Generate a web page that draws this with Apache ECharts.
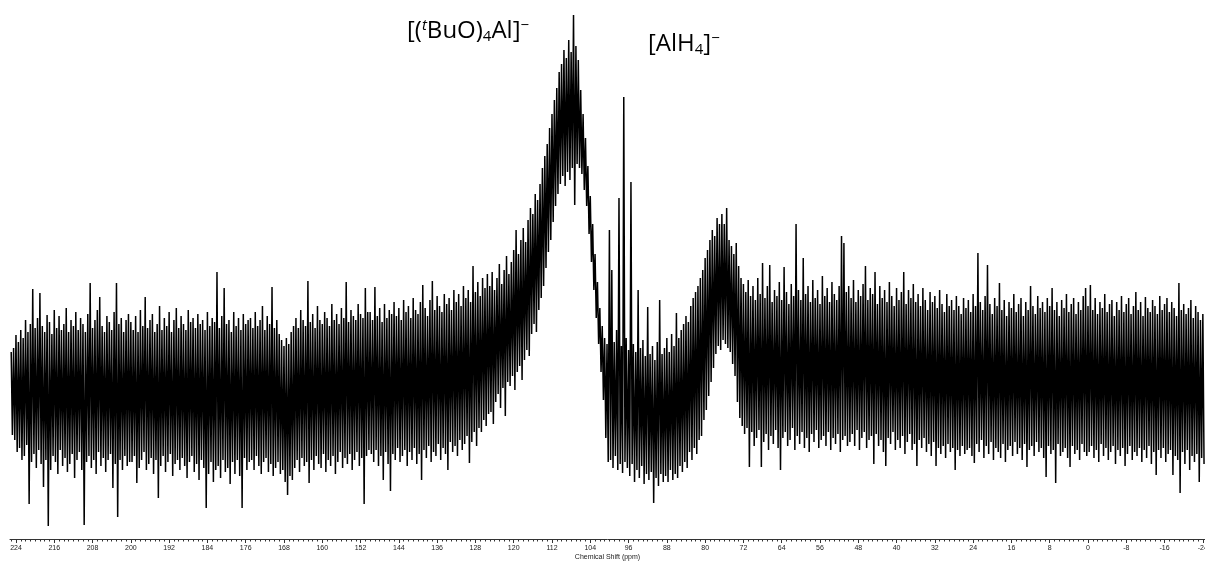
<!DOCTYPE html>
<html>
<head>
<meta charset="utf-8">
<script src="https://cdn.jsdelivr.net/npm/echarts@6/dist/echarts.min.js"></script>
<style>
  html, body { margin: 0; padding: 0; background: #fff; }
  #chart { width: 1205px; height: 561px; }
</style>
</head>
<body>
<div id="chart" style="width:1205px;height:561px"></div>
<script>
// 27Al NMR trace. Every segment holds intensities (a.u.) sampled every 0.25 ppm
// going upfield from its start shift, alternating the upper and lower excursion
// of the noisy signal.
const STEP = 0.25;

const seg225 = [
  38,-45, 42,-50, 55,-62, 48,-58, 60,-70, 52,-66, 70,-55, 58,-114, 66,-72, 101,-64,
  62,-78, 72,-60, 97,-74, 64,-97, 58,-70, 75,-136, 68,-80, 56,-66, 80,-72, 62,-84,
  74,-60, 60,-76, 66,-68, 82,-82, 58,-74, 70,-64, 64,-88, 78,-70, 60,-62, 72,-80,
  66,-135, 58,-72, 76,-66, 107,-78, 62,-70, 70,-84, 80,-62, 93,-76, 64,-68, 58,-82,
  74,-70, 68,-64, 60,-98, 78,-74, 107,-127, 66,-70, 72,-80, 58,-66, 70,-76, 76,-72
];
const seg200 = [
  68,-72, 60,-66, 74,-93, 58,-78, 80,-70, 64,-62, 93,-80, 62,-74, 70,-68, 76,-84,
  58,-70, 66,-108, 84,-76, 60,-66, 72,-82, 64,-72, 78,-64, 58,-86, 70,-74, 82,-70,
  62,-80, 74,-68, 66,-76, 60,-88, 80,-72, 68,-66, 72,-82, 62,-74, 76,-90, 66,-70,
  70,-78, 60,-118, 78,-84, 64,-72, 72,-92, 68,-80, 118,-76, 62,-88, 74,-70, 102,-82,
  66,-78, 70,-94, 58,-72, 78,-84, 64,-70, 72,-86, 60,-118, 76,-68, 66,-80, 70,-72
];
const seg175 = [
  72,-70, 62,-80, 78,-66, 64,-76, 70,-84, 84,-72, 60,-68, 74,-82, 66,-74, 103,-86,
  62,-78, 70,-72, 56,-84, 50,-80, 44,-92, 52,-105, 46,-86, 58,-90, 64,-78, 72,-70,
  62,-82, 80,-68, 70,-76, 64,-72, 109,-93, 68,-70, 76,-80, 62,-66, 84,-74, 70,-78,
  66,-64, 78,-82, 72,-70, 64,-76, 86,-66, 70,-84, 76,-72, 66,-62, 82,-78, 72,-68,
  108,-74, 68,-64, 80,-80, 74,-70, 70,-62, 86,-76, 76,-68, 72,-114, 102,-66, 78,-60
];
const seg150 = [
  78,-64, 70,-72, 103,-60, 74,-76, 82,-66, 68,-90, 86,-62, 72,-74, 80,-101, 76,-64,
  88,-70, 74,-58, 82,-72, 70,-66, 90,-60, 78,-76, 84,-62, 72,-70, 92,-58, 80,-74,
  76,-64, 88,-90, 105,-60, 82,-68, 74,-56, 90,-72, 109,-62, 80,-66, 94,-54, 84,-70,
  78,-58, 96,-64, 86,-80, 92,-52, 80,-62, 100,-56, 88,-66, 96,-50, 84,-60, 104,-54,
  92,-46, 100,-73, 88,-52, 124,-42, 98,-56, 108,-38, 94,-42, 112,-30, 102,-36, 116,-24
];
const seg125 = [
  104,-22, 118,-34, 100,-12, 112,-4, 126,-18, 106,2, 120,-26, 134,8, 116,4, 128,14,
  140,0, 160,18, 136,24, 150,10, 162,30, 148,40, 170,34, 182,56, 176,66, 196,58,
  190,80, 206,92, 222,104, 234,122, 246,138, 262,150, 276,168, 290,184, 302,196, 318,206,
  326,214, 340,204, 332,218, 350,210, 338,222, 375,185, 344,226, 330,222, 300,216, 276,200,
  252,184, 224,156, 194,128, 166,100, 136,72, 108,46, 82,18, 64,-10, 52,-48, 46,-72
];
const seg100 = [
  160,-70, 120,-78, 48,-66, 60,-80, 192,-74, 44,-83, 293,-72, 52,-78, 40,-86, 208,-74,
  46,-92, 38,-80, 100,-88, 42,-76, 50,-94, 34,-84, 83,-90, 36,-82, 44,-113, 30,-88,
  48,-96, 90,-84, 36,-92, 42,-86, 52,-92, 38,-80, 56,-90, 44,-84, 77,-88, 52,-76,
  60,-82, 66,-72, 74,-78, 68,-62, 84,-70, 92,-58, 98,-64, 104,-50, 112,-46, 120,-30,
  132,-20, 140,-6, 150,8, 160,22, 154,36, 172,44, 166,40, 176,50, 166,46, 182,42
];
const seg75 = [
  150,38, 144,26, 136,14, 147,-12, 124,-28, 112,-36, 106,-44, 98,-38, 110,-77, 94,-42,
  104,-56, 90,-48, 112,-40, 96,-77, 127,-52, 92,-44, 104,-60, 125,-46, 88,-54, 100,-40,
  94,-58, 108,-80, 90,-48, 123,-42, 98,-56, 86,-50, 106,-38, 94,-60, 166,-46, 100,-54,
  90,-42, 132,-58, 96,-48, 104,-62, 88,-44, 110,-52, 92,-40, 100,-58, 86,-50, 114,-46,
  94,-56, 102,-42, 88,-60, 108,-48, 96,-54, 90,-44, 104,-62, 154,-50, 147,-46, 98,-56
];
const seg50 = [
  104,-52, 92,-44, 110,-56, 88,-40, 100,-60, 94,-48, 106,-42, 124,-58, 90,-50, 102,-46,
  96,-74, 118,-44, 86,-56, 104,-50, 92,-62, 100,-76, 88,-48, 108,-54, 94,-42, 84,-60,
  102,-50, 90,-58, 98,-46, 118,-64, 86,-52, 100,-44, 92,-60, 106,-54, 88,-76, 96,-50,
  84,-58, 102,-48, 90,-62, 80,-54, 98,-66, 88,-52, 94,-76, 82,-58, 100,-64, 86,-56,
  78,-68, 96,-54, 84,-62, 90,-58, 80,-80, 94,-60, 84,-66, 76,-56, 92,-64, 82,-60
];
const seg25 = [
  90,-58, 78,-66, 96,-73, 84,-54, 137,-62, 88,-50, 80,-68, 94,-56, 125,-64, 86,-52,
  76,-70, 92,-58, 84,-62, 107,-68, 80,-54, 90,-72, 74,-60, 88,-56, 82,-66, 96,-52,
  78,-64, 86,-58, 92,-70, 74,-54, 88,-77, 80,-60, 104,-56, 84,-66, 76,-52, 94,-62,
  82,-58, 88,-68, 78,-87, 92,-56, 84,-64, 102,-60, 80,-93, 88,-54, 74,-66, 90,-62,
  82,-58, 96,-68, 78,-77, 86,-56, 92,-64, 76,-60, 88,-70, 80,-54, 94,-62, 102,-66
];
const seg0 = [
  84,-62, 105,-56, 80,-68, 92,-60, 76,-72, 88,-54, 82,-66, 96,-58, 78,-70, 86,-62,
  90,-56, 74,-74, 88,-60, 80,-66, 94,-58, 78,-76, 86,-64, 92,-56, 76,-70, 84,-62,
  98,-66, 80,-58, 88,-72, 74,-60, 93,-68, 82,-56, 78,-74, 90,-62, 84,-85, 76,-60,
  94,-68, 80,-58, 86,-72, 92,-64, 78,-60, 88,-85, 82,-66, 74,-70, 107,-103, 80,-62,
  86,-74, 76,-60, 82,-80, 90,-66, 72,-72, 84,-64, 78,-92, 70,-68, 76,-74
];

// start shift (ppm) of each segment
const segmentStarts = [225, 200, 175, 150, 125, 100, 75, 50, 25, 0];
const segments = [seg225, seg200, seg175, seg150, seg125, seg100, seg75, seg50, seg25, seg0];

// labelled shifts on the ppm axis
const shiftTicks = [224, 216, 208, 200, 192, 184, 176, 168, 160, 152, 144, 136, 128, 120,
  112, 104, 96, 88, 80, 72, 64, 56, 48, 40, 32, 24, 16, 8, 0, -8, -16, -24];

const SHIFT_MAX = 225.25;
const SHIFT_MIN = -24.45;

const trace = [];
segments.forEach((vals, s) => {
  vals.forEach((v, i) => trace.push([segmentStarts[s] - i * STEP, v]));
});

// 1 ppm minor ticks
const minorTicks = [];
for (let p = -24; p <= 225; p++) minorTicks.push(p);

const chart = echarts.init(document.getElementById('chart'), null, {
  renderer: 'canvas', width: 1205, height: 561
});

const labelFont = 'Open Sans';
const mainRich = { fontSize: 24, fontFamily: labelFont, lineHeight: 26, fill: '#000' };
const supRich = { fontSize: 15, fontFamily: labelFont, lineHeight: 14, verticalAlign: 'top', fill: '#000' };
const subRich = { fontSize: 15, fontFamily: labelFont, lineHeight: 14, verticalAlign: 'bottom', fill: '#000' };

chart.setOption({
  animation: false,
  backgroundColor: '#fff',
  grid: {
    left: 10, right: 0, top: 0, bottom: 22,
    containLabel: false,
    outerBoundsMode: 'none'
  },
  xAxis: [
    {
      type: 'value',
      inverse: true,
      min: SHIFT_MIN,
      max: SHIFT_MAX,
      position: 'bottom',
      name: 'Chemical Shift (ppm)',
      nameLocation: 'middle',
      nameGap: 15,
      nameMoveOverlap: false,
      nameTextStyle: { fontSize: 7, fontFamily: 'Liberation Sans', color: '#222' },
      axisLine: { show: true, onZero: false, lineStyle: { color: '#333', width: 1 } },
      axisTick: { show: true, length: 4, customValues: shiftTicks, lineStyle: { color: '#333' } },
      axisLabel: {
        show: true, customValues: shiftTicks, margin: 6, hideOverlap: false,
        fontSize: 7, fontFamily: 'Liberation Sans', color: '#222'
      },
      splitLine: { show: false }
    },
    {
      type: 'value',
      inverse: true,
      min: SHIFT_MIN,
      max: SHIFT_MAX,
      position: 'bottom',
      axisLine: { show: false, onZero: false },
      axisTick: { show: true, length: 2.5, customValues: minorTicks, lineStyle: { color: '#333' } },
      axisLabel: { show: false },
      splitLine: { show: false }
    }
  ],
  yAxis: {
    type: 'value',
    min: -149,
    max: 390,
    show: false
  },
  series: [{
    type: 'line',
    data: trace,
    showSymbol: false,
    symbol: 'none',
    lineStyle: { color: '#000', width: 1.5, join: 'bevel' },
    clip: true,
    silent: true
  }],
  graphic: [
    {
      type: 'text',
      left: 407,
      top: 18,
      style: {
        text: '{a|[(}{t|t}{a|BuO)}{s|4}{a|Al]}{m|\u2212}',
        rich: {
          a: mainRich,
          t: Object.assign({}, supRich, { fontStyle: 'italic' }),
          s: subRich,
          m: supRich
        }
      }
    },
    {
      type: 'text',
      left: 648,
      top: 31,
      style: {
        text: '{a|[AlH}{s|4}{a|]}{m|\u2212}',
        rich: { a: mainRich, s: subRich, m: supRich }
      }
    }
  ]
});
</script>
</body>
</html>
